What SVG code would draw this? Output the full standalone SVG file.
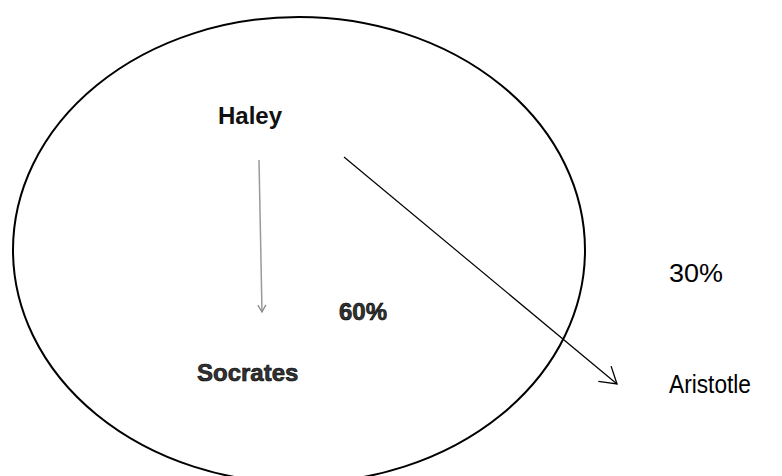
<svg xmlns="http://www.w3.org/2000/svg" width="782" height="476" viewBox="0 0 782 476">
  <style>
    .lbl { font-family: "Liberation Sans", Arial, sans-serif; font-weight: bold; font-size: 24px; fill: #111; }
    .outl { stroke: #000; stroke-width: 0.6px; fill: #333; }
    .plain { font-family: "Liberation Sans", Arial, sans-serif; font-size: 26px; fill: #000; }
  </style>
  <defs>
    <marker id="arrBlack" markerUnits="userSpaceOnUse" markerWidth="40" markerHeight="40" refX="0" refY="0" viewBox="-20 -20 40 40" orient="auto" overflow="visible">
      <path d="M-16,-10 L0,0 L-16,10" fill="none" stroke="#000" stroke-width="1.3"/>
    </marker>
    <marker id="arrGray" markerUnits="userSpaceOnUse" markerWidth="20" markerHeight="20" refX="0" refY="0" viewBox="-10 -10 20 20" orient="auto" overflow="visible">
      <path d="M-7,-4 L0,0 L-7,4" fill="none" stroke="#8a8a8a" stroke-width="1.3"/>
    </marker>
  </defs>
  <rect width="782" height="476" fill="#fff"/>
  <g id="circle">
    <ellipse cx="299" cy="250" rx="286" ry="233" fill="none" stroke="#000" stroke-width="2"/>
  </g>
  <g id="connectors">
    <line x1="259" y1="160" x2="262" y2="312" stroke="#9a9a9a" stroke-width="1.5" marker-end="url(#arrGray)"/>
    <line x1="344" y1="157" x2="617" y2="384" stroke="#000" stroke-width="1.2" marker-end="url(#arrBlack)"/>
  </g>
  <g id="haley"><text class="lbl" x="218" y="124">Haley</text></g>
  <g id="socrates"><text class="lbl outl" x="197" y="381">Socrates</text></g>
  <g id="pct60"><text class="lbl outl" x="339" y="320">60%</text></g>
  <g id="pct30"><text class="plain" x="669" y="282" textLength="54" lengthAdjust="spacingAndGlyphs">30%</text></g>
  <g id="aristotle"><text class="plain" x="669" y="393" textLength="82" lengthAdjust="spacingAndGlyphs">Aristotle</text></g>
</svg>
